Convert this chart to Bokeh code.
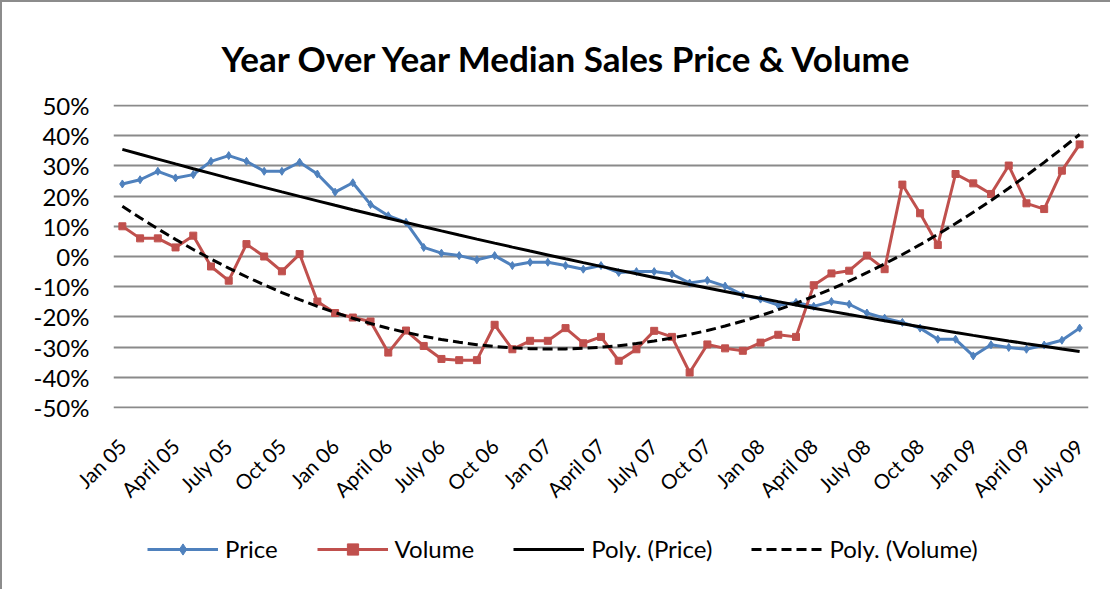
import numpy as np
from bokeh.plotting import figure
from bokeh.layouts import column
from bokeh.models import FixedTicker, Legend, LegendItem, NumeralTickFormatter
from bokeh.embed import file_html
from bokeh.resources import INLINE

months = ["Jan", "Feb", "Mar", "April", "May", "June", "July", "Aug", "Sep", "Oct", "Nov", "Dec"]
years = ["05", "06", "07", "08", "09"]
labels = [f"{m} {y}" for y in years for m in months][:55]

price = [24.0, 25.4, 28.2, 26.0, 27.1, 31.5, 33.4, 31.5, 28.2, 28.2, 31.2, 27.3,
         21.3, 24.4, 17.2, 13.5, 11.3, 3.0, 1.1, 0.3, -1.1, 0.3, -3.0, -1.9,
         -1.9, -3.0, -4.2, -3.0, -5.3, -5.0, -5.0, -5.8, -8.8, -7.9, -9.8, -12.7,
         -14.1, -16.1, -15.2, -16.5, -14.9, -15.8, -18.7, -20.4, -21.8, -23.7, -27.4, -27.4,
         -32.9, -29.2, -30.1, -30.7, -29.3, -27.7, -23.7]
volume = [10.0, 6.0, 6.0, 3.0, 6.9, -3.3, -8.0, 4.1, 0.0, -4.9, 0.8, -14.9,
          -18.7, -20.2, -21.5, -31.8, -24.5, -29.6, -33.9, -34.3, -34.3, -22.6, -30.7, -27.9,
          -27.9, -23.7, -28.7, -26.6, -34.5, -30.7, -24.6, -26.6, -38.4, -29.1, -30.4, -31.2,
          -28.5, -25.9, -26.6, -9.5, -5.6, -4.7, 0.3, -4.2, 23.8, 14.3, 3.8, 27.3,
          24.2, 20.7, 30.1, 17.6, 15.7, 28.4, 37.1]

x = np.arange(len(price))
price_f = np.array(price) / 100.0
volume_f = np.array(volume) / 100.0
price_trend = np.polyval(np.polyfit(x, price_f, 2), x)
volume_trend = np.polyval(np.polyfit(x, volume_f, 2), x)

FONT = "Lato"
BLUE = "#4F81BD"
RED = "#C0504D"
GRID = "#8a8a8a"
DASH = "10 5"


def draw_series(fig):
    r = {}
    r["pl"] = fig.line(x, price_f, line_color=BLUE, line_width=3)
    r["ps"] = fig.scatter(x, price_f, marker="diamond", size=8, fill_color=BLUE, line_color=BLUE)
    r["vl"] = fig.line(x, volume_f, line_color=RED, line_width=3)
    r["vs"] = fig.scatter(x, volume_f, marker="square", size=7, fill_color=RED, line_color=RED)
    r["pt"] = fig.line(x, price_trend, line_color="black", line_width=3)
    r["vt"] = fig.line(x, volume_trend, line_color="black", line_width=3, line_dash=DASH)
    return r


p = figure(width=1108, height=520, output_backend="svg", toolbar_location=None,
           x_range=(-0.5, len(price) - 0.5), y_range=(-0.503, 0.503),
           min_border_left=111, min_border_right=22, min_border_top=102, min_border_bottom=114)

p.title.text = "Year Over Year Median Sales Price & Volume"
p.title.text_font = FONT
p.title.text_font_size = "35px"
p.title.text_font_style = "bold"
p.title.text_color = "black"
p.title.align = "left"
p.title.offset = 108
p.title.standoff = 52

p.outline_line_color = None
p.background_fill_color = "white"
p.border_fill_color = "white"

p.xgrid.grid_line_color = None
p.ygrid.grid_line_color = GRID
p.ygrid.grid_line_width = 2
p.yaxis.ticker = FixedTicker(ticks=[i / 10 for i in range(-5, 6)])
p.yaxis.formatter = NumeralTickFormatter(format="0%")
p.yaxis.axis_line_color = None
p.yaxis.major_tick_line_color = None
p.yaxis.minor_tick_line_color = None
p.yaxis.major_label_standoff = 18
p.yaxis.major_label_text_font = FONT
p.yaxis.major_label_text_font_size = "24px"
p.yaxis.major_label_text_color = "black"

tick_pos = list(range(0, len(price), 3))
p.xaxis.ticker = FixedTicker(ticks=tick_pos)
p.xaxis.major_label_overrides = {i: labels[i] for i in tick_pos}
p.xaxis.major_label_orientation = np.pi / 4
p.xaxis.axis_line_color = None
p.xaxis.major_tick_line_color = None
p.xaxis.minor_tick_line_color = None
p.xaxis.major_label_standoff = 28
p.xaxis.major_label_text_font = FONT
p.xaxis.major_label_text_font_size = "20.5px"
p.xaxis.major_label_text_color = "black"

draw_series(p)

# legend strip: a separate figure whose ranges keep its copies of the series out of view
lg = figure(width=1108, height=67, output_backend="svg", toolbar_location=None,
            x_axis_type=None, y_axis_type=None, x_range=(1000, 1001), y_range=(1000, 1001),
            min_border=0)
lg.outline_line_color = None
lg.xgrid.grid_line_color = None
lg.ygrid.grid_line_color = None
lg.background_fill_color = "white"
lg.border_fill_color = "white"
rl = draw_series(lg)

legend = Legend(items=[
    LegendItem(label="Price", renderers=[rl["pl"], rl["ps"]]),
    LegendItem(label="Volume", renderers=[rl["vl"], rl["vs"]]),
    LegendItem(label="Poly. (Price)", renderers=[rl["pt"]]),
    LegendItem(label="Poly. (Volume)", renderers=[rl["vt"]]),
], orientation="horizontal", location=(34, 26))
legend.border_line_color = None
legend.background_fill_alpha = 0
legend.padding = 0
legend.margin = 0
legend.spacing = 39
legend.glyph_width = 71
legend.glyph_height = 28
legend.label_height = 28
legend.label_standoff = 7
legend.label_text_font = FONT
legend.label_text_font_size = "24px"
legend.label_text_color = "black"
lg.add_layout(legend, "center")

layout = column(p, lg, spacing=0)
layout.styles = {"border-top": "2px solid #8c8c8c", "border-left": "2px solid #8c8c8c"}

open("out.html", "w").write(file_html(layout, INLINE))
